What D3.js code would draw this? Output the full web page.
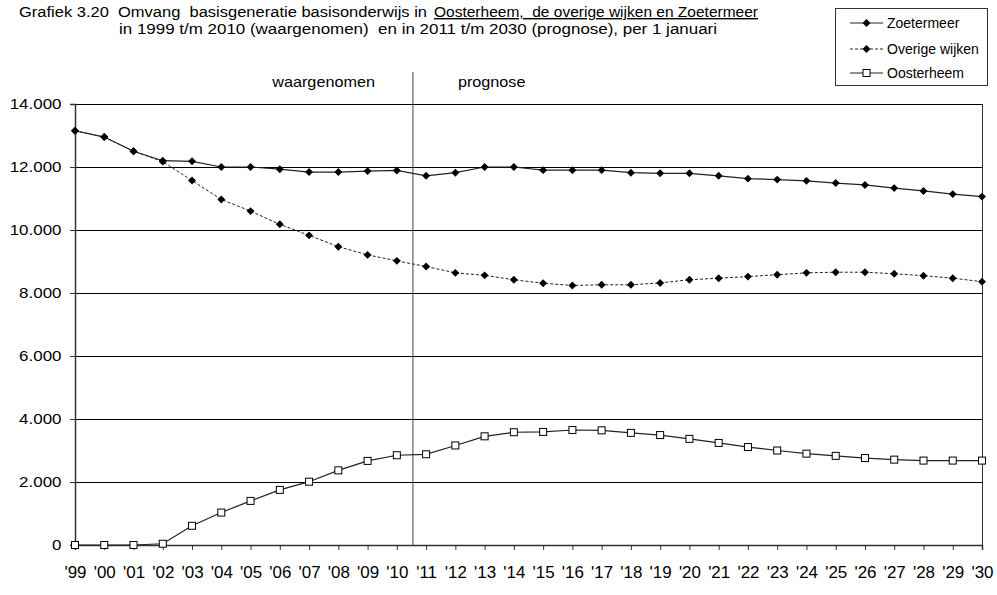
<!DOCTYPE html>
<html><head><meta charset="utf-8">
<script src="https://cdn.jsdelivr.net/npm/d3@7/dist/d3.min.js"></script>
<style>
body{margin:0;background:#fff;}
svg{display:block;font-family:"Liberation Sans",Arial,sans-serif;}
text{white-space:pre;}
</style></head><body>
<svg id="c" width="997" height="595"></svg>
<script>
const years = ["'99","'00","'01","'02","'03","'04","'05","'06","'07","'08","'09","'10","'11","'12","'13","'14","'15","'16","'17","'18","'19","'20","'21","'22","'23","'24","'25","'26","'27","'28","'29","'30"];
const zoetermeer = [13150,12950,12500,12200,12180,12000,12000,11930,11840,11840,11870,11890,11720,11820,12000,12000,11900,11900,11900,11820,11800,11800,11720,11630,11600,11560,11490,11430,11330,11240,11140,11060];
const overigeWijken = [13150,12950,12500,12170,11570,10970,10600,10180,9830,9470,9210,9020,8840,8640,8560,8420,8310,8240,8260,8260,8320,8420,8470,8520,8580,8640,8660,8660,8610,8550,8470,8360];
const oosterheem = [0,0,0,40,610,1030,1400,1750,2010,2370,2670,2850,2880,3160,3450,3580,3590,3650,3640,3560,3490,3370,3240,3110,3000,2900,2830,2760,2710,2680,2680,2680];
const yTicks = [0,2000,4000,6000,8000,10000,12000,14000];
const seriesNames = ["Zoetermeer","Overige wijken","Oosterheem"];
const dividerPos = 11.55; // between '10 and '11

const svg = d3.select("#c");
const L=75,R=982,T=104,B=545;
const x = d3.scaleLinear().domain([0, years.length-1]).range([L,R]);
const y = d3.scaleLinear().domain([0,14000]).range([B,T]);
const fmt = d => d===0 ? "0" : d3.format(",")(d).replace(/,/g,".");

function stretched(parent, X, Y, str, size, sx, anchor){
  return parent.append("text").attr("x",0).attr("y",0)
    .attr("transform",`translate(${X},${Y}) scale(${sx},1)`)
    .attr("text-anchor",anchor||"start").attr("font-size",size).attr("fill","#000").text(str);
}

// gridlines
svg.append("g").selectAll("line").data(yTicks.filter(d=>d>0)).join("line")
  .attr("x1",L).attr("x2",R).attr("y1",d=>y(d)).attr("y2",d=>y(d))
  .attr("stroke","#000").attr("stroke-width",1).attr("shape-rendering","crispEdges");
// right border
svg.append("line").attr("x1",R).attr("x2",R).attr("y1",T).attr("y2",B)
  .attr("stroke","#333").attr("shape-rendering","crispEdges");

// y axis
const ya = svg.append("g").attr("transform",`translate(${L},0)`)
  .call(d3.axisLeft(y).tickValues(yTicks).tickFormat(fmt).tickSize(5).tickPadding(7));
ya.select(".domain").attr("stroke","#333").attr("stroke-width",1.5);
ya.selectAll(".tick line").attr("stroke","#333");
ya.selectAll("text").attr("font-size",15).attr("fill","#000").attr("font-family","Liberation Sans, Arial, sans-serif")
  .attr("x",-13.5/1.13).attr("transform","scale(1.13,1)");

// x axis
const xa = svg.append("g").attr("transform",`translate(0,${B})`)
  .call(d3.axisBottom(x).tickValues(d3.range(years.length)).tickFormat(i=>years[i]).tickSize(5).tickPadding(17));
xa.select(".domain").attr("stroke","#333").attr("stroke-width",1.5);
xa.selectAll(".tick line").attr("stroke","#333");
xa.selectAll("text").attr("font-size",16).attr("fill","#000").attr("font-family","Liberation Sans, Arial, sans-serif")
  .attr("transform","scale(1.06,1)");

// divider
const xd = x(dividerPos);
svg.append("line").attr("x1",xd).attr("x2",xd).attr("y1",72).attr("y2",B)
  .attr("stroke","#444").attr("stroke-width",1);
stretched(svg, xd-38, 87, "waargenomen", 15, 1.08, "end");
stretched(svg, xd+45, 87, "prognose", 15, 1.08, "start");

// lines
const line = d3.line().x((d,i)=>x(i)).y(d=>y(d));
function diamond(g, data){
  g.selectAll("path.m").data(data).join("path").attr("class","m")
   .attr("transform",(d,i)=>`translate(${x(i)},${y(d)})`)
   .attr("d",d3.symbol(d3.symbolDiamond2, 40)).attr("fill","#000");
}
const gO = svg.append("g");
gO.append("path").datum(overigeWijken).attr("d",line).attr("fill","none").attr("stroke","#222").attr("stroke-width",1).attr("stroke-dasharray","3,2");
diamond(gO, overigeWijken);
const gZ = svg.append("g");
gZ.append("path").datum(zoetermeer).attr("d",line).attr("fill","none").attr("stroke","#222").attr("stroke-width",1.2);
diamond(gZ, zoetermeer);
const gS = svg.append("g");
gS.append("path").datum(oosterheem).attr("d",line).attr("fill","none").attr("stroke","#222").attr("stroke-width",1.2);
gS.selectAll("rect").data(oosterheem).join("rect")
  .attr("x",(d,i)=>x(i)-3.5).attr("y",d=>y(d)-3.5).attr("width",7).attr("height",7)
  .attr("fill","#fff").attr("stroke","#000").attr("stroke-width",1);

// title
const t = svg.append("g").attr("font-size",14).attr("fill","#000");
t.append("text").attr("x",19).attr("y",17).attr("textLength",408).attr("lengthAdjust","spacingAndGlyphs")
  .text("Grafiek 3.20  Omvang  basisgeneratie basisonderwijs in");
t.append("text").attr("x",434).attr("y",17).attr("textLength",324).attr("lengthAdjust","spacingAndGlyphs")
  .attr("text-decoration","underline").text("Oosterheem,  de overige wijken en Zoetermeer");
t.append("text").attr("x",119).attr("y",34).attr("textLength",598).attr("lengthAdjust","spacingAndGlyphs")
  .text("in 1999 t/m 2010 (waargenomen)  en in 2011 t/m 2030 (prognose), per 1 januari");

// legend
const lg = svg.append("g");
lg.append("rect").attr("x",835.5).attr("y",8.5).attr("width",152).attr("height",77)
  .attr("fill","#fff").attr("stroke","#333").attr("stroke-width",1);
const ly = [23,49,73];
seriesNames.forEach((n,i)=>{
  const yy = ly[i];
  lg.append("line").attr("x1",850).attr("x2",883).attr("y1",yy).attr("y2",yy)
    .attr("stroke","#222").attr("stroke-width",1).attr("stroke-dasharray", i===1?"3,2":null);
  if(i<2){
    lg.append("path").attr("transform",`translate(866.5,${yy})`).attr("d",d3.symbol(d3.symbolDiamond2,40)).attr("fill","#000");
  } else {
    lg.append("rect").attr("x",863).attr("y",yy-3.5).attr("width",7).attr("height",7).attr("fill","#fff").attr("stroke","#000");
  }
  stretched(lg, 887, yy+5, n, 14, 1.0, "start");
});
</script>
</body></html>
